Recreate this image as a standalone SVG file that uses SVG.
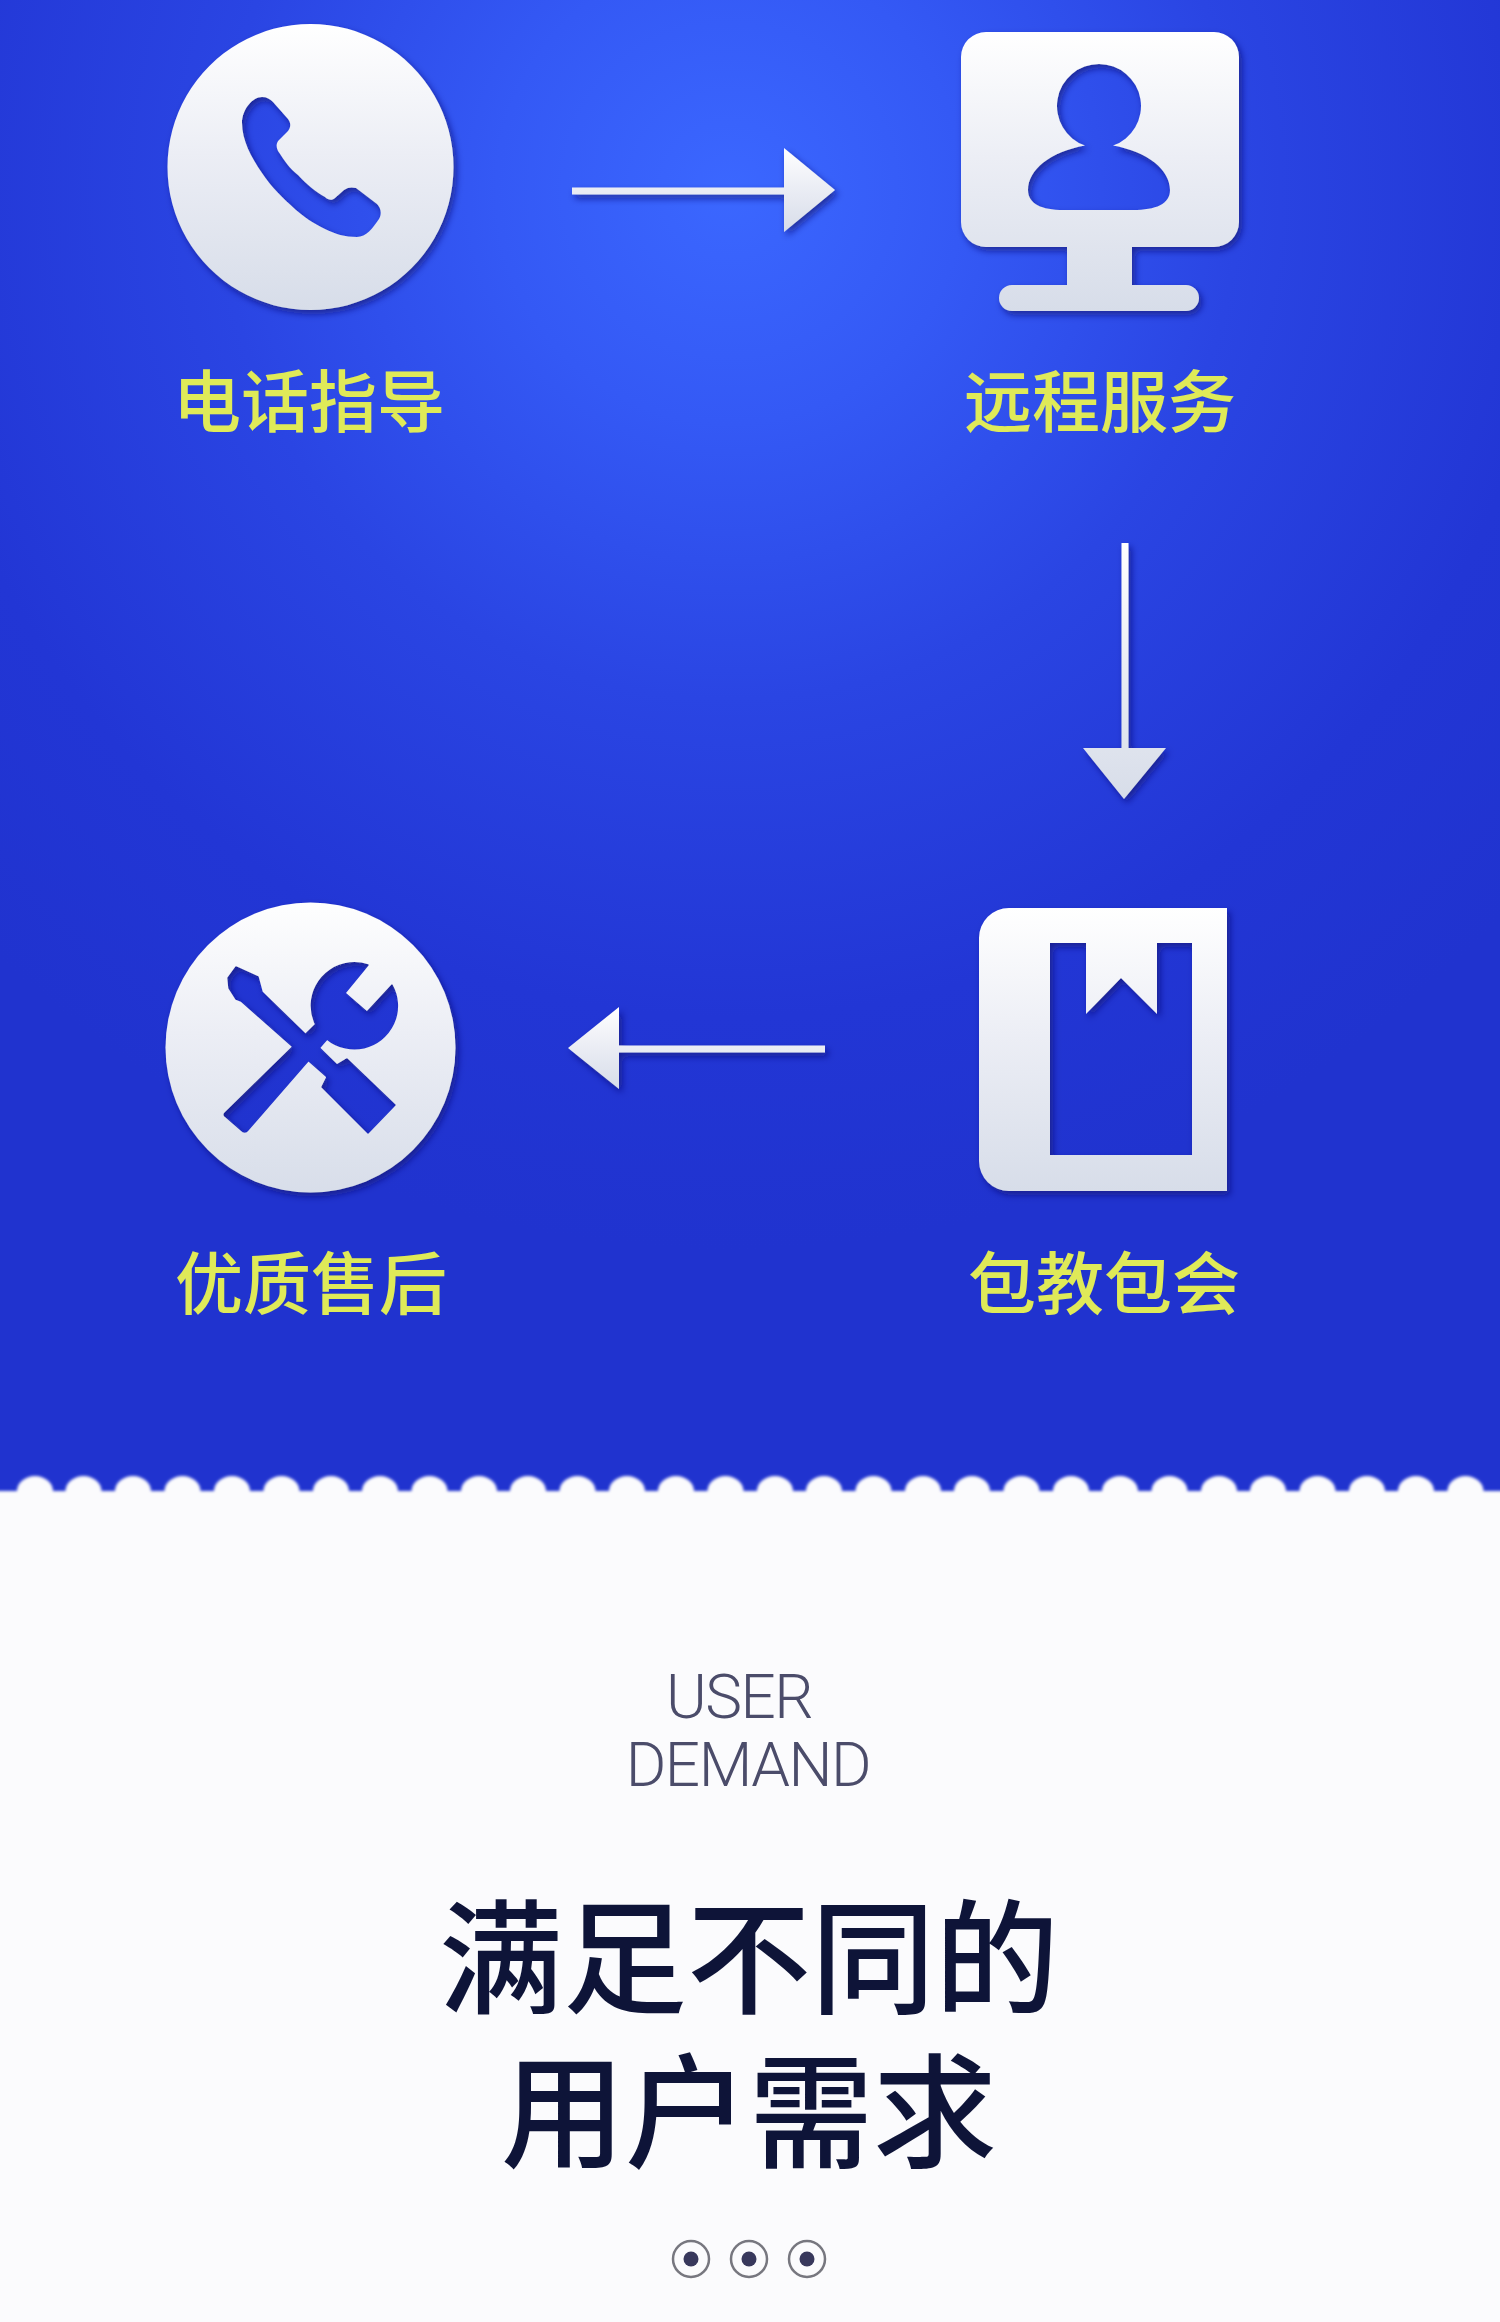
<svg xmlns="http://www.w3.org/2000/svg" width="1500" height="2322" viewBox="0 0 1500 2322">
<style>
.label{font-family:"Noto Sans CJK SC","Noto Sans",sans-serif;font-size:68px;font-weight:500;fill:#dfea58;text-anchor:middle}
.head{font-family:"Noto Sans CJK SC","Noto Sans",sans-serif;font-size:124px;font-weight:500;fill:#0e1438;text-anchor:middle}
.en{font-family:Roboto,"Liberation Sans",sans-serif;font-size:62px;font-weight:300;fill:#4b4c6a;text-anchor:middle;letter-spacing:-1.5px}
.ic{fill:url(#w);filter:url(#s)}
.ring{fill:none;stroke:#77777f;stroke-width:2.5}
.dot{fill:#38385c}
</style>
<defs>
<radialGradient id="bg" gradientUnits="userSpaceOnUse" cx="730" cy="190" r="1060">
<stop offset="0" stop-color="#3b67ff"/><stop offset=".22" stop-color="#3459f5"/><stop offset=".48" stop-color="#2a45e3"/><stop offset=".78" stop-color="#2236d5"/><stop offset="1" stop-color="#2033cf"/>
</radialGradient>
<linearGradient id="w" x1="0" y1="0" x2="0" y2="1"><stop offset="0" stop-color="#ffffff"/><stop offset=".45" stop-color="#eceef5"/><stop offset="1" stop-color="#d7dde9"/></linearGradient>
<filter id="s" x="-20%" y="-20%" width="140%" height="140%"><feDropShadow dx="3" dy="4" stdDeviation="3.500" flood-color="#0a1670" flood-opacity=".65"/></filter>
<filter id="b" x="-1%" y="-1%" width="102%" height="102%"><feGaussianBlur stdDeviation="1.8"/></filter>
<mask id="toolmask" maskUnits="userSpaceOnUse" x="150" y="890" width="320" height="320">
<circle cx="310.5" cy="1047.5" r="145" fill="#fff"/>
<g fill="#000" stroke="#000" stroke-width="1.500" stroke-linejoin="round">
<path d="M228 978L236 967L258 977L262 992L337 1065L347 1059L395 1105L368 1133L322 1087L327 1077L241 1001L236 999L229 988Z"/>
<path d="M225 1113L317 1023L328 1038L248 1130Q245 1134 241 1130L226 1117Q223 1115 225 1113Z"/>
<path d="M368 965L345 993L367 1012L392 985A43 43 0 1 1 368 965Z"/>
</g>
</mask>
</defs>
<rect id="background" width="1500" height="1500" fill="url(#bg)"/>
<g id="connectors">
<g class="ic"><path d="M572 187.500H784V148L835 190L784 232V194.500H572Z"/></g>
<g class="ic"><path d="M1121.500 543H1128.500V748H1166L1124 799L1083 748H1121.500Z"/></g>
<g class="ic"><path d="M825 1045.500V1052.500H619V1089L568 1048L619 1007V1045.500Z"/></g>
</g>
<g id="node-phone">
<path class="ic" fill-rule="evenodd" d="M310.500 24A143 143 0 1 1 310.490 24ZM242 123C242 110 252 97 262 97C267 97 270 99 273 102L288 119C291 123 291 127 288 131L279 140C276 143 276 147 278 151C284 160 290 169 298 175C306 184 316 192 325 197C328 200 332 201 335 198L344 190C348 187 352 187 356 188L377 204C381 208 382 214 379 219C373 228 366 237 357 237C345 237 335 234 325 229C313 223 304 217 296 210C283 198 271 187 262 173C251 157 242 140 242 123Z"/>
<text class="label" x="309" y="427">电话指导</text>
</g>
<g id="node-remote">
<path class="ic" fill-rule="evenodd" d="M986 32H1214A25 25 0 0 1 1239 57V222A25 25 0 0 1 1214 247H1132V285H1186A13 13 0 0 1 1186 311H1012A13 13 0 0 1 1012 285H1067V247H986A25 25 0 0 1 961 222V57A25 25 0 0 1 986 32ZM1099 64A42 42 0 0 0 1085 145.600C1050 152 1028 170 1028 190C1028 204 1042 210 1063 210H1133C1156 210 1170 204 1170 190C1170 170 1148 152 1113 145.600A42 42 0 0 0 1099 64Z"/>
<text class="label" x="1100" y="427">远程服务</text>
</g>
<g id="node-book">
<path class="ic" fill-rule="evenodd" d="M1009 908H1227V1191H1009A30 30 0 0 1 979 1161V938A30 30 0 0 1 1009 908ZM1050 943V1155H1192V943H1157V1014L1121 978L1086 1014V943Z"/>
<text class="label" x="1104" y="1309">包教包会</text>
</g>
<g id="node-service">
<g filter="url(#s)"><rect x="160" y="895" width="305" height="305" fill="url(#w)" mask="url(#toolmask)"/></g>
<text class="label" x="311" y="1309">优质售后</text>
</g>
<g id="lower-panel">
<path filter="url(#b)" fill="#fbfbfd" d="M0 1491H17A18 15 0 0 1 53 1491H65.500A18 15 0 0 1 101.500 1491H115A18 15 0 0 1 151 1491H164.500A18 15 0 0 1 200.500 1491H214A18 15 0 0 1 250 1491H263.500A18 15 0 0 1 299.500 1491H313A18 15 0 0 1 349 1491H362A18 15 0 0 1 398 1491H411.500A18 15 0 0 1 447.500 1491H461A18 15 0 0 1 497 1491H510A18 15 0 0 1 546 1491H559.500A18 15 0 0 1 595.500 1491H609A18 15 0 0 1 645 1491H658A18 15 0 0 1 694 1491H707.500A18 15 0 0 1 743.500 1491H757A18 15 0 0 1 793 1491H806A18 15 0 0 1 842 1491H855.500A18 15 0 0 1 891.500 1491H905A18 15 0 0 1 941 1491H954A18 15 0 0 1 990 1491H1003.500A18 15 0 0 1 1039.500 1491H1053A18 15 0 0 1 1089 1491H1102A18 15 0 0 1 1138 1491H1151.500A18 15 0 0 1 1187.500 1491H1201A18 15 0 0 1 1237 1491H1250A18 15 0 0 1 1286 1491H1299.500A18 15 0 0 1 1335.500 1491H1349A18 15 0 0 1 1385 1491H1398A18 15 0 0 1 1434 1491H1447.500A18 15 0 0 1 1483.500 1491H1510V2340H-10V1491Z"/>
<text class="en" x="739" y="1718">USER</text>
<text class="en" x="748" y="1786">DEMAND</text>
<text class="head" x="749" y="2004">满足不同的</text>
<text class="head" x="749" y="2158">用户需求</text>
<g id="pager">
<circle class="ring" cx="691" cy="2259" r="18"/><circle class="dot" cx="691" cy="2259" r="7.500"/>
<circle class="ring" cx="749" cy="2259" r="18"/><circle class="dot" cx="749" cy="2259" r="7.500"/>
<circle class="ring" cx="807" cy="2259" r="18"/><circle class="dot" cx="807" cy="2259" r="7.500"/>
</g>
</g>
</svg>
